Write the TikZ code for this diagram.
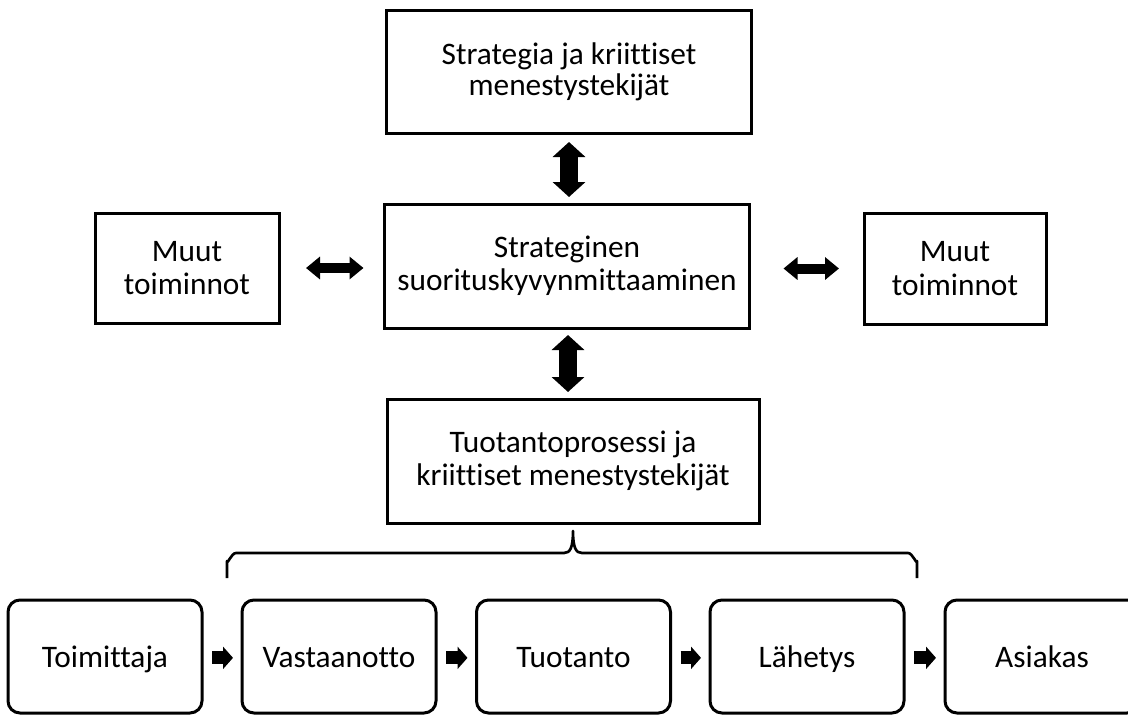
\documentclass[tikz,border=0pt]{standalone}
\usepackage{fontspec}
\setmainfont{Carlito}[Ligatures={NoCommon}]
\usetikzlibrary{arrows.meta,calc}
\begin{document}
\begin{tikzpicture}[x=0.75pt,y=-0.75pt,
  every node/.style={font=\fontsize{23.5}{25}\selectfont, align=center, inner sep=0pt, outer sep=0pt},
  box/.style={draw, line width=2.25pt, fill=white},
  rbox/.style={draw, line width=2.25pt, rounded corners=9pt, minimum width=145.5pt, minimum height=84.75pt, text height=16pt, text depth=0pt},
  bigv/.style={line width=13.5pt, {Triangle[length=11.25pt,width=24pt]}-{Triangle[length=11.25pt,width=24pt]}},
  bigh/.style={line width=7.5pt, {Triangle[length=10.5pt,width=16.5pt]}-{Triangle[length=10.5pt,width=16.5pt]}},
  smallarr/.style={line width=9.75pt, -{Triangle[length=7.5pt,width=16.5pt]}, shorten <=7.5pt, shorten >=6.75pt}
]
\useasboundingbox (0,0) rectangle (1128,715);
\clip (0,0) rectangle (1128,715);

\node[box, minimum width=273.75pt, minimum height=92.25pt] (top) at (569,71.5) {\raisebox{-1.5pt}{\shortstack{Strategia ja kriittiset\\menestystekijät}}};
\node[box, minimum width=273.75pt, minimum height=93pt] (mid) at (567,266) {Strateginen\\suorituskyvynmittaaminen};
\node[box, minimum width=138pt, minimum height=82.5pt] (left) at (187,268) {Muut\\toiminnot};
\node[box, minimum width=136.5pt, minimum height=83.25pt] (right) at (955,268.5) {Muut\\toiminnot};
\node[box, minimum width=279pt, minimum height=93pt] (bot) at (573,461) {Tuotantoprosessi ja\\kriittiset menestystekijät};

\node[rbox] (r1) at (105,656.5) {Toimittaja};
\node[rbox] (r2) at (339,656.5) {Vastaanotto};
\node[rbox] (r3) at (573.5,656.5) {Tuotanto};
\node[rbox] (r4) at (807,656.5) {Lähetys};
\node[rbox] (r5) at (1042,656.5) {Asiakas};

% block arrows
\draw[bigv, shorten <=6.75pt, shorten >=5.25pt] (top.south -| 569,0) -- (mid.north -| 569,0);
\draw[bigv, shorten <=5.25pt, shorten >=5.25pt] (mid.south -| 568,0) -- (bot.north -| 568,0);
\draw[bigh, shorten <=20.25pt, shorten >=15.75pt] (left.east) -- (left.east -| mid.west);
\draw[bigh, shorten <=25.5pt, shorten >=18.75pt] (mid.east |- right.west) -- (right.west);

\draw[smallarr] ([yshift=-1pt]r1.east) -- ([yshift=-1pt]r2.west);
\draw[smallarr] ([yshift=-1pt]r2.east) -- ([yshift=-1pt]r3.west);
\draw[smallarr] ([yshift=-1pt]r3.east) -- ([yshift=-1pt]r4.west);
\draw[smallarr] ([yshift=-1pt]r4.east) -- ([yshift=-1pt]r5.west);

% brace
\coordinate (bl) at (227,578);
\coordinate (br) at (917,578);
\coordinate (btip) at (573,531);
\draw[line width=2pt, line join=round] (bl) -- (227,561) to[out=-90,in=180] (236,553)
  -- (564,553) .. controls (570,553) and (573,548) .. (btip)
  .. controls (573,548) and (576,553) .. (582,553)
  -- (908,553) to[out=0,in=-90] (917,561) -- (br);
\end{tikzpicture}
\end{document}
